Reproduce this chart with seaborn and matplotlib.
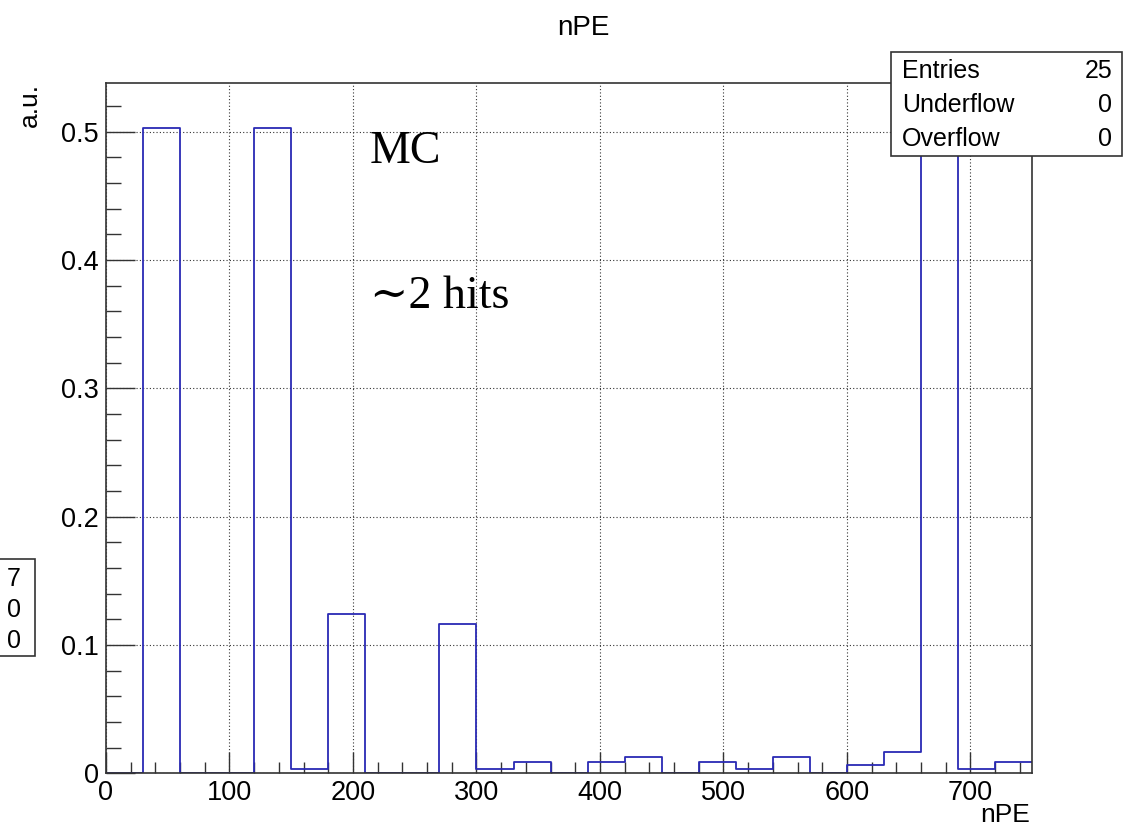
import numpy as np
import pandas as pd
import matplotlib
matplotlib.use("Agg")
import matplotlib.pyplot as plt
import seaborn as sns
from matplotlib.patches import Rectangle
from matplotlib.ticker import MultipleLocator, FuncFormatter

# histogram contents, 25 bins of width 30 between 0 and 750
bin_edges = np.arange(0, 751, 30)
bin_values = [0.0, 0.503, 0.0, 0.0, 0.503, 0.0036, 0.124, 0.0, 0.0, 0.116,
              0.0036, 0.0088, 0.0, 0.0088, 0.0125, 0.0, 0.0088, 0.0036, 0.0125, 0.0,
              0.0068, 0.0166, 0.512, 0.0036, 0.0088]
bin_centers = (bin_edges[:-1] + bin_edges[1:]) / 2

stats_labels = ["Entries", "Underflow", "Overflow"]
stats_values = ["25", "0", "0"]
other_stats_values = ["7", "0", "0"]

df = pd.DataFrame({'nPE': bin_centers, 'w': bin_values})

sns.set_style("white")
plt.rcParams['font.family'] = ['Liberation Sans', 'DejaVu Sans']
plt.rcParams['text.color'] = 'black'
plt.rcParams['axes.labelcolor'] = 'black'
plt.rcParams['xtick.color'] = 'black'
plt.rcParams['ytick.color'] = 'black'

fig = plt.figure(figsize=(11.24, 8.36), dpi=100)
ax = fig.add_axes([0.0943, 0.075, 0.824, 0.826])

sns.histplot(data=df, x='nPE', weights='w', binwidth=30, binrange=(0, 750),
             element='step', fill=False, color='#2a2ab4', linewidth=1.3, ax=ax)

ax.set_xlim(0, 750)
ax.set_ylim(0, 0.538)
ax.xaxis.set_major_locator(MultipleLocator(100))
ax.xaxis.set_minor_locator(MultipleLocator(20))
ax.yaxis.set_major_locator(MultipleLocator(0.1))
ax.yaxis.set_minor_locator(MultipleLocator(0.02))
ax.yaxis.set_major_formatter(FuncFormatter(lambda v, p: '%g' % round(v, 3)))
ax.tick_params(axis='both', which='both', direction='in', color='#333333',
               labelsize=19.5, bottom=True, left=True, top=False, right=False)
ax.tick_params(axis='x', which='major', length=15, width=1, pad=5)
ax.tick_params(axis='x', which='minor', length=8, width=1)
ax.tick_params(axis='y', which='major', length=21, width=1, pad=5)
ax.tick_params(axis='y', which='minor', length=11, width=1)
for s in ax.spines.values():
    s.set_color('#333333')
    s.set_linewidth(1.2)
ax.grid(True, which='major', linestyle=(0, (1, 2)), color='#333333', linewidth=0.8)
ax.set_axisbelow(True)

ax.set_xlabel('')
ax.set_ylabel('a.u.', loc='top', fontsize=19, labelpad=14)
fig.text(1030 / 1124, 1 - 815 / 836, 'nPE', ha='right', va='center', fontsize=19)

fig.text(583 / 1124, 1 - 28 / 836, 'nPE', ha='center', va='center', fontsize=20)

serif = ['Liberation Serif', 'DejaVu Serif']
ax.text(0.285, 0.90, 'MC', transform=ax.transAxes, fontsize=33, family=serif, va='center')
ax.text(0.285, 0.69, '\u223c2 hits', transform=ax.transAxes, fontsize=33, family=serif, va='center')

# statistics box in the top right corner
x0, x1 = 891 / 1124, 1122 / 1124
y0, y1 = 1 - 155.5 / 836, 1 - 51.7 / 836
fig.patches.append(Rectangle((x0, y0), x1 - x0, y1 - y0, transform=fig.transFigure,
                             facecolor='white', edgecolor='#333333', linewidth=1.2, zorder=5))
for i, (lab, val) in enumerate(zip(stats_labels, stats_values)):
    yy = 1 - (71 + i * 34) / 836
    fig.text(902 / 1124, yy, lab, fontsize=18, va='center', ha='left', zorder=6)
    fig.text(1112 / 1124, yy, val, fontsize=18, va='center', ha='right', zorder=6)

# clipped statistics box from a neighbouring pad on the left edge
fig.patches.append(Rectangle((-0.01, 1 - 656 / 836), 35 / 1124 + 0.01, 97 / 836,
                             transform=fig.transFigure, facecolor='white',
                             edgecolor='#333333', linewidth=1.2, zorder=5))
for i, val in enumerate(other_stats_values):
    yy = 1 - (579 + i * 31) / 836
    fig.text(21 / 1124, yy, val, fontsize=18, va='center', ha='right', zorder=6)

fig.savefig('out.png', dpi=100, facecolor='white')
